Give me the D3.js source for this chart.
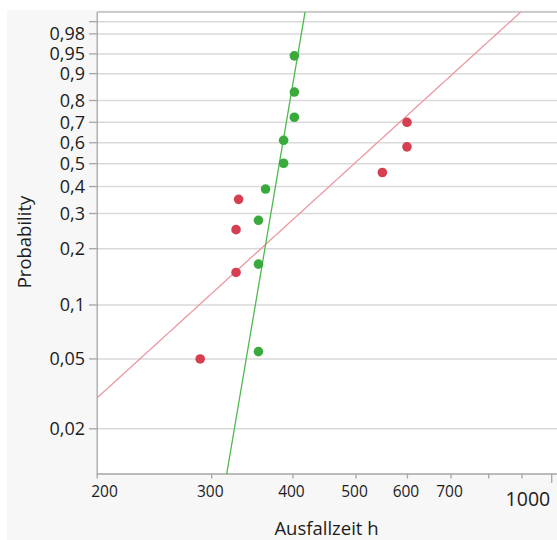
<!DOCTYPE html>
<html>
<head>
<meta charset="utf-8">
<script src="https://cdn.jsdelivr.net/npm/d3@7"></script>
<style>
  body { margin: 0; background: #fff; font-family: 'Open Sans', sans-serif; }
  .grid line { stroke: #d9d9d9; stroke-width: 1.5; }
  .tick-label { fill: #1c1c1c; }
</style>
</head>
<body>
<div class="chart"></div>
<script>
/* Chart data
--------------------------------------------------- */
const redTimes = [288, 327, 327, 330, 549, 599, 599];
const redProbs = [0.05, 0.15, 0.25, 0.35, 0.46, 0.58, 0.70];

const greenTimes = [354, 354, 354, 363, 387, 387, 402, 402, 402];
const greenProbs = [0.055, 0.166, 0.278, 0.39, 0.502, 0.612, 0.724, 0.835, 0.946];

// Weibull fit lines: shape (beta) and scale (eta)
const redFit = { beta: 3.43, eta: 553 };
const greenFit = { beta: 22.2, eta: 387.5 };

const probTicks = [0.02, 0.05, 0.1, 0.2, 0.3, 0.4, 0.5, 0.6, 0.7, 0.8, 0.9, 0.95, 0.98, 0.99];
const probLabels = ['0,02', '0,05', '0,1', '0,2', '0,3', '0,4', '0,5', '0,6', '0,7', '0,8', '0,9', '0,95', '0,98', ''];

const timeTicks = [200, 300, 400, 500, 600, 700, 800, 900, 1000];
const timeLabels = ['200', '300', '400', '500', '600', '700', '', '', '1000'];

const probDomain = [0.011, 0.99469];
const timeDomain = [200, 1000];

/* Scales
--------------------------------------------------- */
const width = 557;
const height = 540;
const plot = { left: 97.2, top: 12, right: 575, bottom: 474 };

const weibull = p => Math.log(-Math.log(1 - p));

const x = d3.scaleLog().domain(timeDomain).range([plot.left, 551.7]);
const y = d3.scaleLinear().domain(probDomain.map(weibull)).range([plot.bottom, plot.top]);

/* Draw background, grid and frame
--------------------------------------------------- */
const svg = d3
  .select('.chart')
  .append('svg')
  .attr('width', width)
  .attr('height', height);

svg
  .append('rect')
  .attr('x', 7)
  .attr('y', 10)
  .attr('width', width - 7)
  .attr('height', height - 10)
  .attr('fill', '#f7f7f7');

svg
  .append('rect')
  .attr('x', plot.left)
  .attr('y', plot.top)
  .attr('width', plot.right - plot.left)
  .attr('height', plot.bottom - plot.top)
  .attr('fill', '#fff');

svg
  .append('clipPath')
  .attr('id', 'clip')
  .append('rect')
  .attr('x', plot.left)
  .attr('y', plot.top)
  .attr('width', plot.right - plot.left)
  .attr('height', plot.bottom - plot.top);

svg
  .append('g')
  .attr('class', 'grid')
  .selectAll('line')
  .data(probTicks)
  .enter()
  .append('line')
  .attr('x1', plot.left)
  .attr('x2', plot.right)
  .attr('y1', d => y(weibull(d)))
  .attr('y2', d => y(weibull(d)));

svg
  .append('line')
  .attr('x1', plot.left)
  .attr('x2', plot.right)
  .attr('y1', plot.top)
  .attr('y2', plot.top)
  .attr('stroke', '#bdbdbd')
  .attr('stroke-width', 1.5);

svg
  .append('path')
  .attr('d', `M${plot.left},${plot.top}V${plot.bottom}H${plot.right}`)
  .attr('fill', 'none')
  .attr('stroke', '#a6a6a6')
  .attr('stroke-width', 1.3);

/* Axes
--------------------------------------------------- */
const yAxis = svg
  .append('g')
  .selectAll('g')
  .data(probTicks)
  .enter()
  .append('g')
  .attr('transform', d => `translate(0,${y(weibull(d))})`);

yAxis
  .append('line')
  .attr('x1', 89)
  .attr('x2', plot.left)
  .attr('stroke', '#a6a6a6')
  .attr('stroke-width', 1.3);

yAxis
  .append('text')
  .attr('class', 'tick-label')
  .attr('x', 85)
  .attr('dy', '0.35em')
  .attr('text-anchor', 'end')
  .style('font-size', '18px')
  .text((d, i) => probLabels[i]);

const xAxis = svg
  .append('g')
  .selectAll('g')
  .data(timeTicks)
  .enter()
  .append('g')
  .attr('transform', d => `translate(${x(d)},${plot.bottom})`);

xAxis
  .append('line')
  .attr('y1', 0)
  .attr('y2', d => (d === 1000 ? 9 : 4.5))
  .attr('stroke', '#a6a6a6')
  .attr('stroke-width', 1.3);

xAxis
  .append('text')
  .attr('class', 'tick-label')
  .attr('x', d => (d === 200 ? -6 : -1.5))
  .attr('y', d => (d === 1000 ? 31.5 : 23.3))
  .attr('text-anchor', d => (d === 200 ? 'start' : d === 1000 ? 'end' : 'middle'))
  .style('font-size', d => (d === 1000 ? '19.5px' : '15.5px'))
  .text((d, i) => timeLabels[i]);

svg
  .append('text')
  .attr('x', 326.5)
  .attr('y', 535)
  .attr('text-anchor', 'middle')
  .attr('fill', '#1c1c1c')
  .style('font-size', '18.5px')
  .text('Ausfallzeit h');

svg
  .append('text')
  .attr('transform', 'translate(31,242) rotate(-90)')
  .attr('text-anchor', 'middle')
  .attr('fill', '#1c1c1c')
  .style('font-size', '18.5px')
  .text('Probability');

/* Fit lines and points
--------------------------------------------------- */
const fitLine = fit => {
  const times = d3.range(0, 201).map(i => 150 * Math.pow(1500 / 150, i / 200));
  return d3
    .line()
    .x(t => x(t))
    .y(t => y(fit.beta * (Math.log(t) - Math.log(fit.eta))))(times);
};

const lines = svg.append('g').attr('clip-path', 'url(#clip)');

lines
  .append('path')
  .attr('d', fitLine(redFit))
  .attr('fill', 'none')
  .attr('stroke', '#ea99a2')
  .attr('stroke-width', 1.3);

lines
  .append('path')
  .attr('d', fitLine(greenFit))
  .attr('fill', 'none')
  .attr('stroke', '#4dba4d')
  .attr('stroke-width', 1.3);

const drawPoints = (times, probs, color) =>
  svg
    .append('g')
    .selectAll('circle')
    .data(times.map((t, i) => ({ t, p: probs[i] })))
    .enter()
    .append('circle')
    .attr('cx', d => x(d.t))
    .attr('cy', d => y(weibull(d.p)))
    .attr('r', 4.8)
    .attr('fill', color);

drawPoints(redTimes, redProbs, '#d63f51');
drawPoints(greenTimes, greenProbs, '#3aaa3c');
</script>
</body>
</html>
